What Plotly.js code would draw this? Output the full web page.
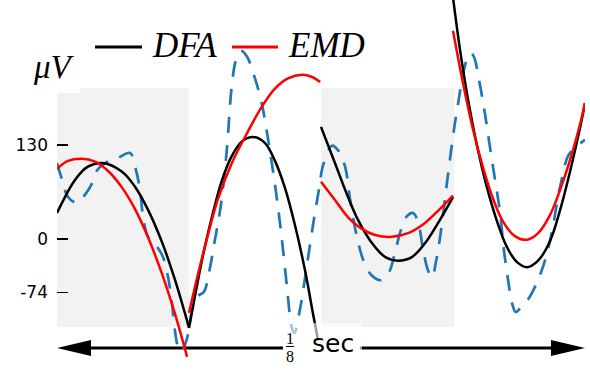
<!DOCTYPE html>
<html>
<head>
<meta charset="utf-8">
<script src="https://cdn.plot.ly/plotly-3.0.1.min.js"></script>
<style>html,body{margin:0;padding:0;background:#fff;}#chart{width:590px;height:370px;}</style>
</head>
<body>
<div id="chart"></div>
<script>
// Segment boundaries (ms); grey shading on segments 1 and 3
const segEdges = [0, 31.25, 62.5, 93.75, 125];
const tickVals = [130, 0, -74];
const tickText = ["130", "0", "-74"];
const seriesNames = ["DFA", "EMD"];

// DFA fit (per segment, null separated)
const dfaT = [0, 4.3, 7.3, 10.7, 15.4, 18.5, 21.5, 24.9, 27.9, 30.3, 31.25, null,
  31.25, 32.7, 34.3, 36.7, 39.1, 41.4, 43.8, 46.4, 49.2, 51.6, 54.0, 56.3, 58.7, 60.6, 61.8, null,
  62.5, 65.8, 68.9, 71.3, 74.6, 77.7, 80.7, 84.0, 87.1, 90.2, 93.75, null,
  93.75, 95.4, 97.1, 99.4, 101.8, 104.2, 106.5, 108.9, 111.3, 113.9, 116.7, 119.1, 121.45, 123.8, 125];
const dfaV = [36, 82, 100, 105, 93, 72, 41, -5, -56, -103, -123, null,
  -123, -78, -30, 31, 82, 115, 135, 141, 133, 108, 70, 20, -43, -103, -140, null,
  155, 105, 58, 26, -6, -25, -30, -25, -6, 22, 58, null,
  334, 262, 200, 130, 71, 24, -11, -32, -39, -30, -3, 40, 93, 153, 188];

// EMD fit (per segment, null separated)
const emdT = [0, 2.6, 5.9, 9.0, 12.1, 15.4, 18.5, 21.5, 24.9, 27.9, 30.8, null,
  31.25, 33.4, 35.75, 38.1, 41.4, 44.5, 48.5, 51.6, 54.7, 58.0, 60.4, 62.3, null,
  62.5, 65.8, 68.9, 71.9, 75.3, 79.3, 83.1, 86.4, 89.5, 93.75, null,
  93.75, 96.1, 98.5, 100.85, 103.2, 105.6, 108.4, 111.3, 113.9, 116.7, 119.1, 121.45, 123.8, 125];
const emdV = [97, 108, 111, 107, 94, 71, 41, 3, -49, -103, -163, null,
  -102, -48, 6, 55, 105, 141, 183, 208, 222, 227, 224, 217, null,
  79, 54, 30, 15, 5.5, 3, 8, 19, 35, 60, null,
  288, 216, 151, 99, 56, 24, 4, -1, 8, 33, 68, 109, 158, 188];

// Raw signal (continuous, dashed)
const sigT = [0, 1.2, 2.6, 4.7, 6.6, 8.3, 9.5, 11.4, 14.4, 17.3, 18.5, 19.65, 20.4, 21.55, 23.7, 25.1, 26.3, 27.2, 27.9, 28.65, 29.4,
  30.8, 32.0, 33.4, 34.8, 36.0, 37.4, 38.8, 40.2, 41.4, 42.4, 43.6, 45.0, 46.6, 48.3, 50.0, 51.6, 53.0, 54.4, 55.6, 56.2, 57.5, 59.0, 60.6, 62.0,
  63.0, 65.1, 66.5, 68.2, 69.4, 71.0, 72.7, 74.6, 76.7, 78.6, 80.0, 81.4, 82.9, 84.3, 85.5, 86.6, 87.8, 88.8, 89.7, 90.7, 91.9, 93.0,
  94.2, 94.9, 96.1, 97.3, 98.0, 98.7, 99.9, 101.3, 102.5, 103.7, 104.9, 105.8, 106.8, 107.7, 108.6, 110.0, 111.7, 114.6, 116.7, 119.1, 121.0, 122.6, 125];
const sigV = [105, 82, 58, 50, 61, 77, 95, 105, 112, 119, 100, 68, 30, 3, -11, -25, -53, -88, -126, -149, -156,
  -137, -98, -79, -73, -46, -1, 47, 123, 213, 248, 260, 252, 227, 192, 137, 75, 12, -64, -123, -130, -98, -43, 19, 68,
  102, 129, 123, 100, 54, 3, -32, -51, -57, -46, -19, 12, 32, 36, 23, -12, -43, -53, -32, 3, 58, 109,
  160, 185, 227, 253, 257, 252, 220, 174, 127, 82, 36, -15, -57, -88, -101, -93, -82, -46, -3, 72, 115, 126, 137];

const X0 = 57, PW = 528, PH = 370;
const px = v => (v - X0) / PW;          // pixel x -> paper x
const py = v => (PH - v) / PH;          // pixel y -> paper y

const traces = [
  {x: sigT, y: sigV, mode: 'lines', line: {color: '#1f77b4', width: 2.7, dash: '16px,12px', shape: 'spline'}, hoverinfo: 'skip', name: 'signal'},
  {x: dfaT, y: dfaV, mode: 'lines', line: {color: '#000000', width: 2.5, shape: 'spline'}, connectgaps: false, name: seriesNames[0]},
  {x: emdT, y: emdV, mode: 'lines', line: {color: '#ff0000', width: 2.5, shape: 'spline'}, connectgaps: false, name: seriesNames[1]}
];

const arrowY = -150.7, headL = 8.05, headH = 11.1;
const shapes = [
  {type: 'rect', xref: 'x', yref: 'y', x0: segEdges[0], x1: 5.45, y0: -121.7, y1: 201.9, fillcolor: '#f2f2f2', line: {width: 0}, layer: 'below'},
  {type: 'rect', xref: 'x', yref: 'y', x0: 5.45, x1: segEdges[1], y0: -121.7, y1: 208.8, fillcolor: '#f2f2f2', line: {width: 0}, layer: 'below'},
  {type: 'rect', xref: 'x', yref: 'y', x0: segEdges[2], x1: segEdges[3] + 0.3, y0: -121.7, y1: 208.8, fillcolor: '#f2f2f2', line: {width: 0}, layer: 'below'},
  // arrow lines
  {type: 'line', xref: 'x', yref: 'y', x0: headL - 0.5, x1: 53.5, y0: arrowY, y1: arrowY, line: {color: '#000', width: 3}, layer: 'below'},
  {type: 'line', xref: 'x', yref: 'y', x0: 71.7, x1: 125 - headL + 0.5, y0: arrowY, y1: arrowY, line: {color: '#000', width: 3}, layer: 'below'},
  {type: 'path', xref: 'x', yref: 'y', path: `M 0,${arrowY} L ${headL},${arrowY + headH} L ${headL},${arrowY - headH} Z`, fillcolor: '#000', line: {width: 0}, layer: 'below'},
  {type: 'path', xref: 'x', yref: 'y', path: `M 125,${arrowY} L ${125 - headL},${arrowY + headH} L ${125 - headL},${arrowY - headH} Z`, fillcolor: '#000', line: {width: 0}, layer: 'below'},
  // label box
  {type: 'rect', xref: 'paper', yref: 'paper', x0: px(283), x1: px(362), y0: py(372), y1: py(323), fillcolor: 'rgba(255,255,255,0.6)', line: {width: 0}, layer: 'above'},
  // fraction bar
  {type: 'line', xref: 'paper', yref: 'paper', x0: px(286), x1: px(294), y0: py(346.5), y1: py(346.5), line: {color: '#000', width: 1}, layer: 'above'},
  // legend samples
  {type: 'line', xref: 'paper', yref: 'paper', x0: px(95), x1: px(142), y0: py(47), y1: py(47), line: {color: '#000', width: 3}},
  {type: 'line', xref: 'paper', yref: 'paper', x0: px(232), x1: px(278), y0: py(47), y1: py(47), line: {color: '#ff0000', width: 3}}
];

const serif = 'Liberation Serif';
const annotations = [
  {xref: 'paper', yref: 'paper', x: px(150), y: py(46), xanchor: 'left', yanchor: 'middle', showarrow: false, text: '<i>' + seriesNames[0] + '</i>', font: {family: serif, size: 35, color: '#000'}},
  {xref: 'paper', yref: 'paper', x: px(286), y: py(46), xanchor: 'left', yanchor: 'middle', showarrow: false, text: '<i>' + seriesNames[1] + '</i>', font: {family: serif, size: 35, color: '#000'}},
  {xref: 'paper', yref: 'paper', x: px(31), y: py(67), xanchor: 'left', yanchor: 'middle', showarrow: false, text: '<i>μV</i>', font: {family: serif, size: 33, color: '#000'}},
  {xref: 'paper', yref: 'paper', x: px(290), y: py(338), xanchor: 'center', yanchor: 'middle', showarrow: false, text: '1', font: {family: serif, size: 16, color: '#000'}},
  {xref: 'paper', yref: 'paper', x: px(290), y: py(356), xanchor: 'center', yanchor: 'middle', showarrow: false, text: '8', font: {family: serif, size: 16, color: '#000'}},
  {xref: 'paper', yref: 'paper', x: px(310), y: py(343), xanchor: 'left', yanchor: 'middle', showarrow: false, text: 'sec', font: {family: 'DejaVu Sans', size: 25, color: '#000'}}
];

const layout = {
  width: 590, height: 370,
  margin: {l: 57, r: 5, t: 0, b: 0, pad: 0},
  paper_bgcolor: '#ffffff', plot_bgcolor: 'rgba(0,0,0,0)',
  showlegend: false,
  xaxis: {range: [segEdges[0], segEdges[4]], visible: false, fixedrange: true},
  yaxis: {range: [-181.2, 330.5], tickvals: tickVals, ticktext: tickText, ticks: 'inside', ticklen: 11, tickwidth: 1.6, tickcolor: '#000',
          showgrid: false, zeroline: false, showline: false, ticklabelstandoff: 8,
          tickfont: {family: 'DejaVu Sans', size: 17, color: '#000'}, fixedrange: true},
  shapes: shapes,
  annotations: annotations
};

Plotly.newPlot('chart', traces, layout, {staticPlot: true, displayModeBar: false});
</script>
</body>
</html>
